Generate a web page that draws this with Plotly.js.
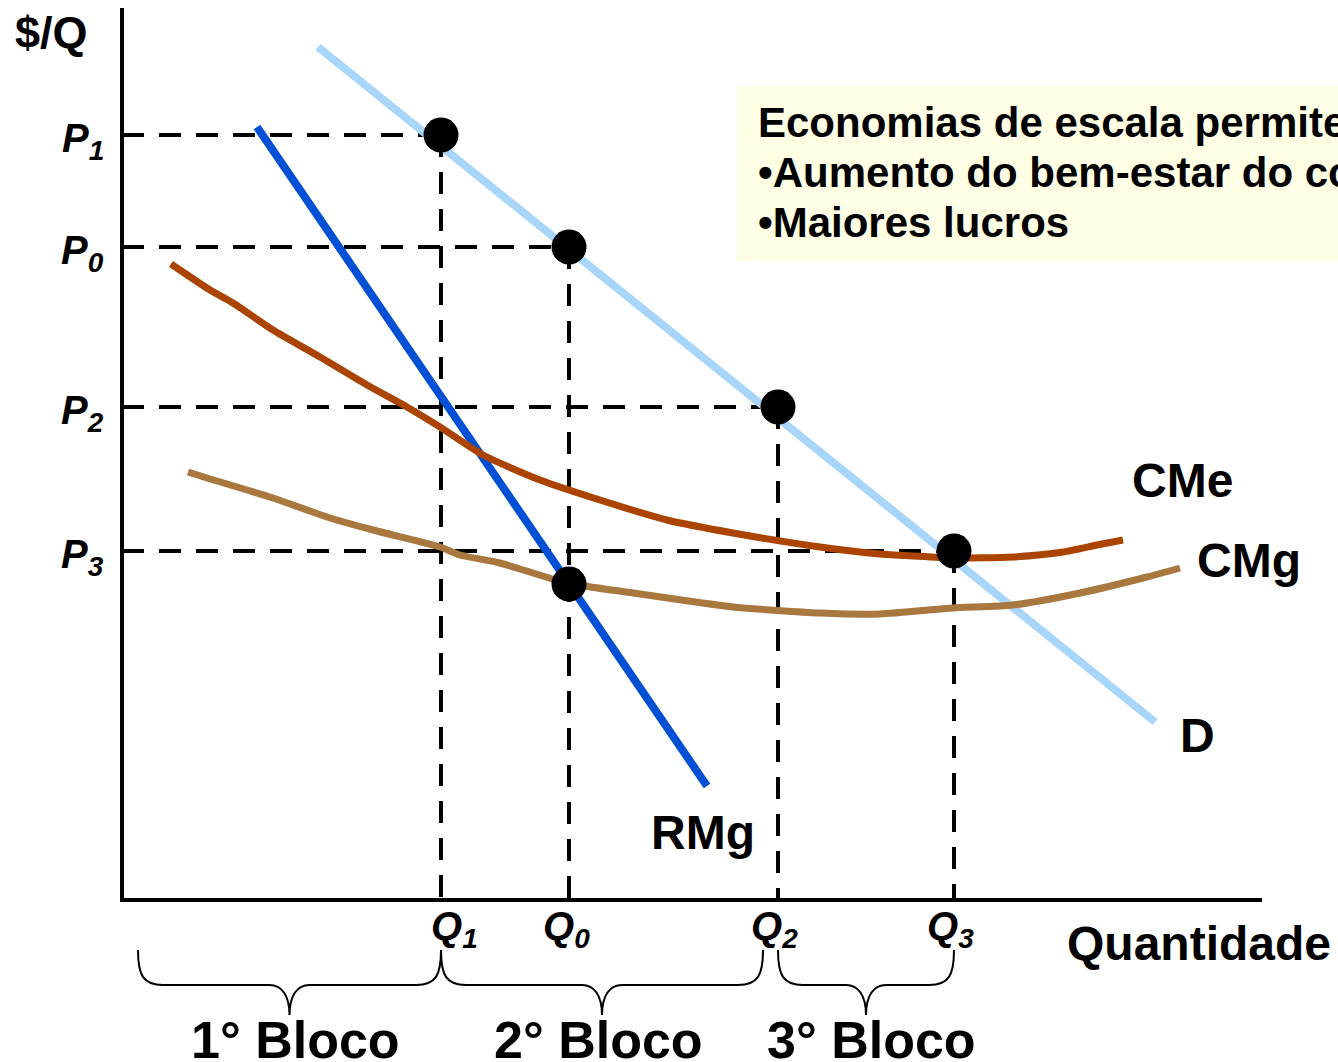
<!DOCTYPE html>
<html>
<head>
<meta charset="utf-8">
<script src="https://cdn.plot.ly/plotly-3.0.1.min.js"></script>
<style>html,body{margin:0;padding:0;background:#fff;}#chart{width:1338px;height:1062px;}</style>
</head>
<body>
<div id="chart"></div>
<script>
// ---- data (quantity units on x, price units on y) ----
const demandX = [19.6, 103.3];
const demandY = [85.3, 17.8];
const rmgX = [13.5, 58.5];
const rmgY = [77.3, 11.4];
const cmeX = [4.9, 8.8, 11.1, 15.1, 19.8, 24.5, 28.5, 31.8, 36.1, 41.8, 47.8, 54.5, 61.1, 69.8, 75.8, 79.1, 83.1, 89.1, 94.1, 97.5, 100.1];
const cmeY = [63.6, 61.0, 59.7, 57.0, 54.3, 51.5, 49.3, 47.3, 44.5, 42.0, 40.0, 38.0, 36.7, 35.3, 34.6, 34.4, 34.2, 34.3, 34.8, 35.5, 36.0];
const cmgX = [6.6, 8.5, 15.1, 20.5, 25.1, 31.8, 33.8, 37.8, 44.5, 51.1, 61.1, 69.8, 75.8, 83.1, 89.1, 95.8, 102.5, 105.8];
const cmgY = [42.8, 42.2, 40.2, 38.3, 37.0, 35.3, 34.5, 33.7, 31.7, 30.7, 29.3, 28.7, 28.6, 29.2, 29.5, 30.7, 32.3, 33.2];
const qLabels = ["1", "0", "2", "3"];
const qValues = [31.9, 44.7, 65.6, 83.2];
const pValues = [76.5, 65.3, 49.3, 34.9];
const extraDotX = [44.7];
const extraDotY = [31.6];
const braceFrom = [1.6, 31.9, 65.6];
const braceTo = [31.9, 64.1, 83.2];
const blocoLabels = ["1° Bloco", "2° Bloco", "3° Bloco"];
const boxLines = ["Economias de escala permitem:", "•Aumento do bem-estar do consumidor", "•Maiores lucros"];

const F = "Liberation Sans, Arial, sans-serif";
const black = "#000";
const qLabelShift = [1.3, -0.3, -0.4, -0.4];
const blocoShift = [0.55, -0.4, 0.5];

const traces = [
  {x: demandX, y: demandY, mode: "lines", line: {color: "#A8D6FB", width: 8}, hoverinfo: "skip"},
  {x: rmgX, y: rmgY, mode: "lines", line: {color: "#0050D6", width: 8}, hoverinfo: "skip"},
  {x: cmeX, y: cmeY, mode: "lines", line: {color: "#AA4400", width: 7, shape: "spline", smoothing: 0.6}, hoverinfo: "skip"},
  {x: cmgX, y: cmgY, mode: "lines", line: {color: "#A8783F", width: 7, shape: "spline", smoothing: 0.6}, hoverinfo: "skip"},
  {x: qValues.concat(extraDotX), y: pValues.concat(extraDotY), mode: "markers", marker: {color: black, size: 35}, hoverinfo: "skip"}
];

const shapes = [];
// yellow text box
shapes.push({type: "rect", xref: "x", yref: "y", x0: 61.5, x1: 125, y0: 63.9, y1: 81.4, fillcolor: "#FFFFE6", line: {width: 0}, layer: "below"});
// dashed guides
qValues.forEach((q, i) => {
  const p = pValues[i];
  shapes.push({type: "line", xref: "x", yref: "y", x0: 0, x1: q, y0: p, y1: p, line: {color: black, width: 4, dash: "22px,15px"}, layer: "below"});
  shapes.push({type: "line", xref: "x", yref: "y", x0: q, x1: q, y0: p, y1: 0, line: {color: black, width: 4, dash: "22px,15px"}, layer: "below"});
});
// axes
shapes.push({type: "line", xref: "x", yref: "y", x0: 0, x1: 0, y0: 0, y1: 89.2, line: {color: black, width: 4}});
shapes.push({type: "line", xref: "x", yref: "y", x0: -0.2, x1: 114, y0: 0, y1: 0, line: {color: black, width: 4}});
// braces
function brace(a, b) {
  const m = (a + b) / 2, t = -5.0, h = -8.5, tip = -11.5;
  return `M ${a},${t} C ${a},${t - 2.5} ${a + 0.5},${h} ${a + 2.5},${h} L ${m - 2},${h} C ${m - 0.8},${h} ${m},${h - 1} ${m},${tip} ` +
         `C ${m},${h - 1} ${m + 0.8},${h} ${m + 2},${h} L ${b - 2.5},${h} C ${b - 0.5},${h} ${b},${t - 2.5} ${b},${t}`;
}
braceFrom.forEach((a, i) => {
  shapes.push({type: "path", xref: "x", yref: "y", path: brace(a, braceTo[i]), line: {color: black, width: 2}});
});

const ann = [];
const A = (o) => Object.assign({showarrow: false, xref: "x", yref: "y"}, o);
ann.push(A({x: -7.1, y: 86.8, text: "<b>$/Q</b>", font: {family: F, size: 45, color: black}}));
pValues.forEach((p, i) => {
  ann.push(A({x: -1.6, y: p - 0.6, xanchor: "right", text: `<b><i>P<sub>${qLabels[i]}</sub></i></b>`, font: {family: F, size: 40, color: black}}));
  ann.push(A({x: qValues[i] + qLabelShift[i], y: -2.9, text: `<b><i>Q<sub>${qLabels[i]}</sub></i></b>`, font: {family: F, size: 40, color: black}}));
});
ann.push(A({x: 107.7, y: -4.3, text: "<b>Quantidade</b>", font: {family: F, size: 48, color: black}}));
ann.push(A({x: 106.0, y: 42.0, text: "<b>CMe</b>", font: {family: F, size: 48, color: black}}));
ann.push(A({x: 112.7, y: 34.0, text: "<b>CMg</b>", font: {family: F, size: 48, color: black}}));
ann.push(A({x: 107.5, y: 16.5, text: "<b>D</b>", font: {family: F, size: 48, color: black}}));
ann.push(A({x: 58.1, y: 6.8, text: "<b>RMg</b>", font: {family: F, size: 48, color: black}}));
boxLines.forEach((t, i) => {
  ann.push(A({x: 63.4, y: 77.8 - i * 5.0, xanchor: "left", text: `<b>${t}</b>`, font: {family: F, size: 42, color: black}}));
});
blocoLabels.forEach((t, i) => {
  ann.push(A({x: (braceFrom[i] + braceTo[i]) / 2 + blocoShift[i], y: -14.0, text: `<b>${t}</b>`, font: {family: F, size: 52, color: black}}));
});

const layout = {
  width: 1338, height: 1062,
  margin: {l: 0, r: 0, t: 0, b: 0},
  paper_bgcolor: "#fff", plot_bgcolor: "#fff",
  showlegend: false,
  xaxis: {range: [-12.2, 121.6], visible: false, fixedrange: true},
  yaxis: {range: [-16.2, 90.0], visible: false, fixedrange: true},
  shapes: shapes,
  annotations: ann
};
Plotly.newPlot("chart", traces, layout, {displayModeBar: false, staticPlot: true});
</script>
</body>
</html>
